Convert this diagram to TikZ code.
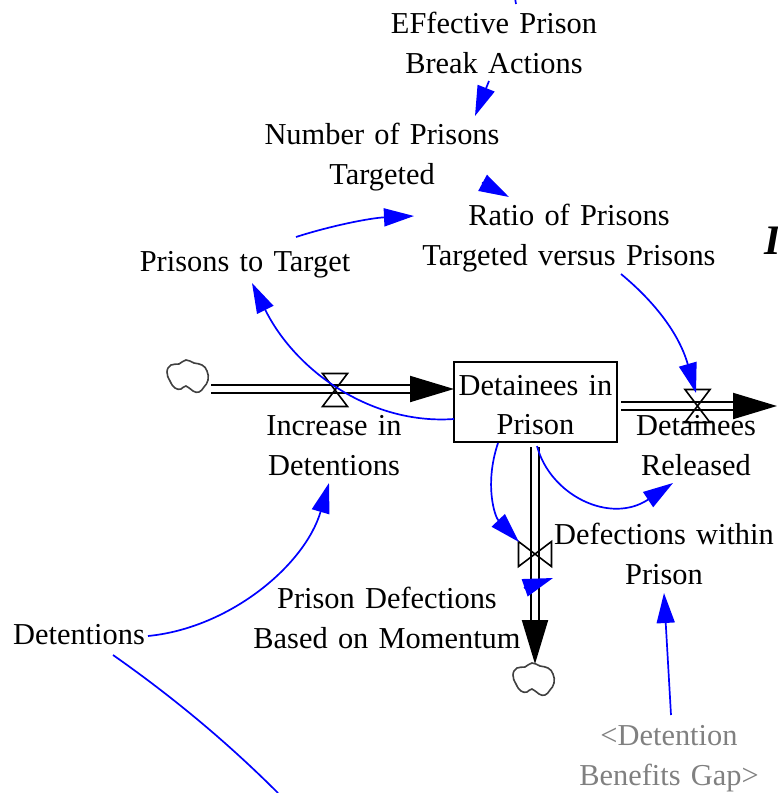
\documentclass[tikz,border=0pt]{standalone}
\usepackage{fontspec}
\setmainfont[WordSpace=1.35]{Liberation Serif}
\usetikzlibrary{arrows.meta}
\definecolor{linkblue}{RGB}{0,0,255}
\begin{document}
\begin{tikzpicture}[x=1pt, y=-1pt,
                    main/.style = {align=center, font=\fontsize{30.4}{39.5}\selectfont, text height=60pt, text depth=0pt},
                    oneline/.style = {main, text height=20.5pt},
                    stockbox/.style = {main, draw, line width=2pt, minimum width=163pt, minimum height=80pt, inner sep=0pt, text height=65.5pt},
                    shadow/.style = {main, text=black!50},
                    link/.style = {draw=linkblue, line width=1.7pt, -{Triangle[length=30pt, width=18pt, fill=linkblue]}},
                    plainlink/.style = {draw=linkblue, line width=1.7pt},
                    pipe/.style = {double, double distance=6pt, line width=2pt, -{Triangle[length=44pt, width=26pt, fill=black]}},
                    pics/valve/.style = {code = {\draw[line width=1.6pt] (-12.5,-16.5) -- (12.5,-16.5) -- (-12.5,16.5) -- (12.5,16.5) -- cycle;}},
                    pics/flowcloud/.style = {code = {\draw[line width=1.6pt, black!75] plot[smooth cycle, tension=0.8] coordinates {(-21,-4) (-17,-11) (-9,-12) (-2,-16) (6,-13) (14,-11) (19,-5) (20,4) (16,11) (11,16) (5,15) (-2,10) (-7,13) (-13,12) (-18,5)};}}]
                    \path[use as bounding box, clip] (0,0) rectangle (778,793);

                    \node[stockbox] (stock) at (535.5,402) {Detainees in\\Prison};
                    \node[main] (ratio) [above of=stock, node distance=167pt, xshift=33.5pt] {Ratio of Prisons\\Targeted versus Prisons};
                    \node[main] (npt) [above of=ratio, node distance=81pt, xshift=-187pt] {Number of Prisons\\Targeted};
                    \node[main] (ep) [above of=npt, node distance=111pt, xshift=112pt] {EFfective Prison\\Break Actions};
                    \node[oneline] (pt) [above of=stock, node distance=141pt, xshift=-290.5pt] {Prisons to Target};
                    \node[main] (inc) [below of=stock, node distance=43pt, xshift=-201.5pt] {Increase in\\Detentions};
                    \node[main] (rel) [below of=stock, node distance=43pt, xshift=160.5pt] {Detainees\\Released};
                    \node[main] (dwp) [below of=rel, node distance=109pt, xshift=-32pt] {Defections within\\Prison};
                    \node[main] (pdm) [below of=stock, node distance=216pt, xshift=-148.5pt] {Prison Defections\\Based on Momentum};
                    \node[oneline] (det) [below of=pdm, node distance=16pt, xshift=-308pt] {Detentions};
                    \node[shadow] (gap) [below of=dwp, node distance=201pt, xshift=5pt] {<Detention\\Benefits Gap>};
                    \node[font=\fontsize{42}{42}\selectfont\bfseries\itshape, anchor=base west, inner sep=0pt] (cut) at (764,254) {I};

                    \coordinate (src) at (211,389);
                    \coordinate (drain) at (777,406);
                    \coordinate (snk) at (535,664);
                    \coordinate (vin) at (335,390);
                    \coordinate (vout) at (697.5,406);
                    \coordinate (vdown) at (535,554);
                    \coordinate (tick) at (515,-2);
                    \coordinate (off) at (278,793);

                    \draw[pipe] (src) -- ([shift={(-81.5,-13)}]stock.center);
                    \draw[pipe] ([shift={(85.5,4)}]stock.center) -- (drain);
                    \draw[pipe] ([shift={(-0.5,45)}]stock.center) -- (snk);

                    \pic at (vin) {valve};
                    \pic at (vout) {valve};
                    \pic[rotate=90] at (vdown) {valve};
                    \pic at (188,376) {flowcloud};
                    \pic at (534,679) {flowcloud};

                    \draw[plainlink] (tick) -- ([shift={(22,-39)}]ep.center);
                    \draw[link] ([shift={(-5,38)}]ep.center) -- ([shift={(93,-38)}]npt.center);
                    \draw[link] ([shift={(100,28.5)}]npt.center) -- ([shift={(-60,-38)}]ratio.center);
                    \draw[link] ([shift={(51,-24)}]pt.center) .. controls (330,226) and (370,218) .. ([shift={(-155,-19)}]ratio.center);
                    \draw[link] ([shift={(-81.5,17)}]stock.center) .. controls (370,425) and (295,370) .. ([shift={(7,22)}]pt.center);
                    \draw[link] ([shift={(52,39)}]ratio.center) .. controls (650,298) and (678,330) .. ([shift={(-1.5,-13)}]vout);
                    \draw[link] ([shift={(1.5,44)}]stock.center) .. controls (550,495) and (610,525) .. ([shift={(-23,38)}]rel.center);
                    \draw[link] ([shift={(-37.5,41)}]stock.center) .. controls (484,485) and (495,517) .. ([shift={(-16,-12)}]vdown);
                    \draw[link] ([shift={(137,-30)}]pdm.center) -- ([shift={(-111,24)}]dwp.center);
                    \draw[link] ([shift={(69,2)}]det.center) .. controls (230,628) and (305,565) .. ([shift={(-5,38)}]inc.center);
                    \draw[plainlink] ([shift={(34,21)}]det.center) .. controls (170,695) and (225,740) .. (off);
                    \draw[link] ([shift={(2,-40)}]gap.center) -- ([shift={(0,39)}]dwp.center);
                \end{tikzpicture}
\end{document}
